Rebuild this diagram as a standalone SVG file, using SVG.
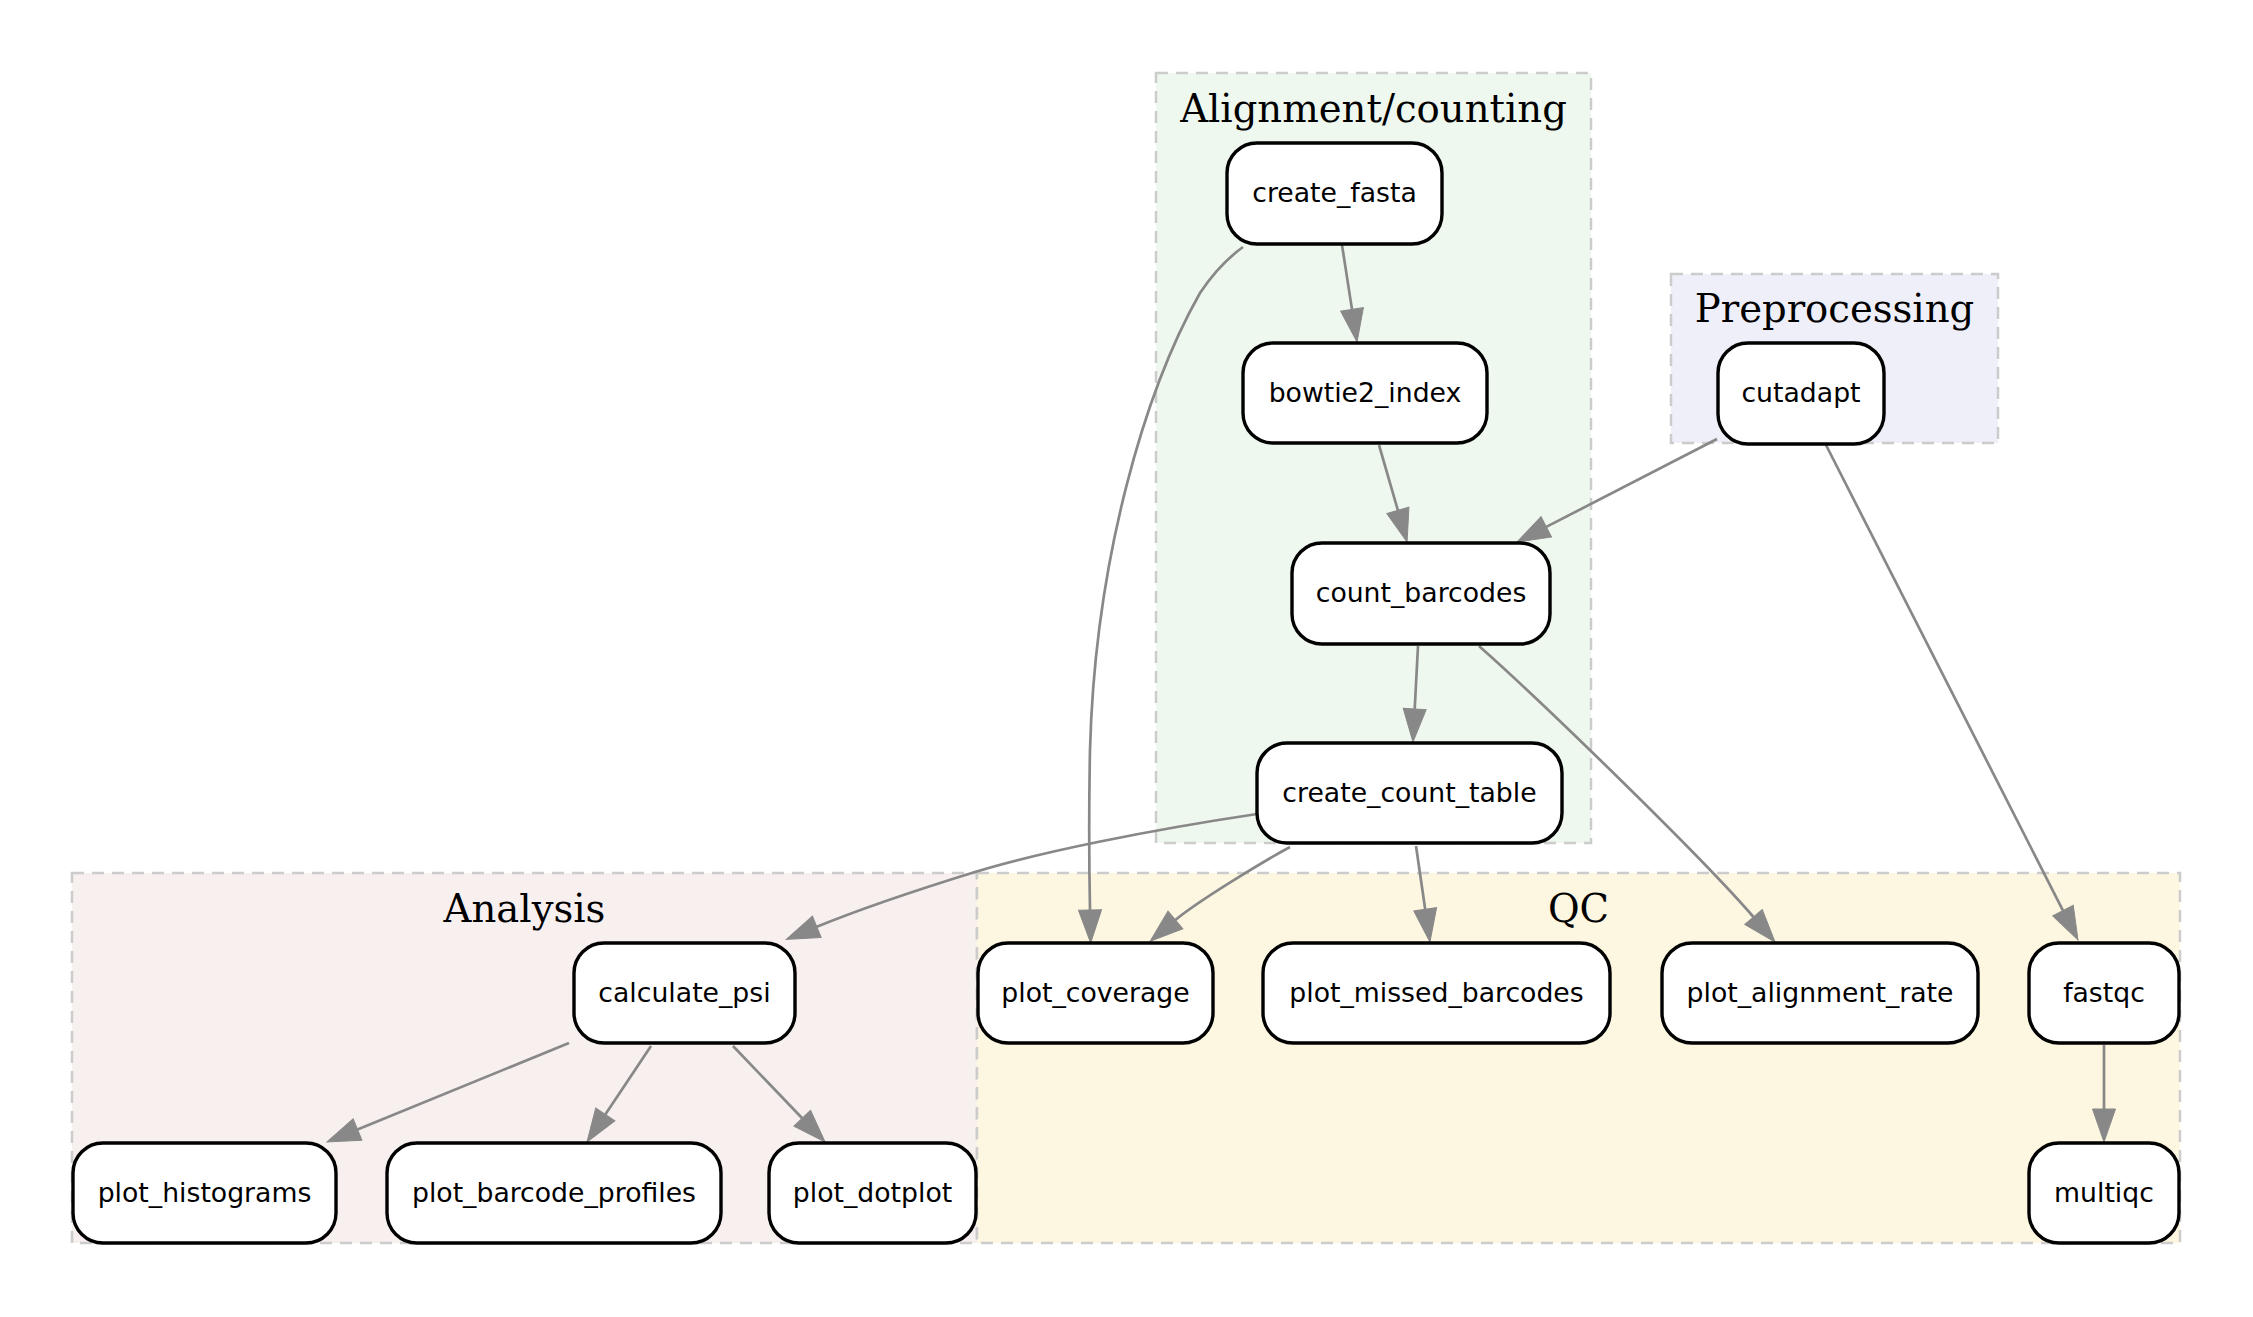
<svg xmlns="http://www.w3.org/2000/svg" width="2253" height="1317" viewBox="0 0 2253 1317">
<style>
.cl{stroke:#cccccc;stroke-width:2.5;stroke-dasharray:12 8}
.ct{font-family:"DejaVu Serif","Liberation Serif",serif;font-size:38.6px;fill:#000;text-anchor:middle}
.nd rect{fill:#ffffff;stroke:#000;stroke-width:3.4}
.nd text{font-family:"DejaVu Sans","Liberation Sans",sans-serif;font-size:26.7px;fill:#000;text-anchor:middle}
.ed path{fill:none;stroke:#888888;stroke-width:2.7}
</style>
<defs>
<marker id="ah" markerUnits="userSpaceOnUse" markerWidth="36" markerHeight="26" refX="0" refY="12" orient="auto" overflow="visible">
<path d="M0,0.5 L33,12 L0,23.5 z" fill="#888888" stroke="#888888" stroke-width="1"/>
</marker>
</defs>
<rect width="2253" height="1317" fill="#ffffff"/>
<g id="clusters">
<g id="cluster_alignment"><rect class="cl" x="1156" y="73" width="435" height="770" fill="#eff8ee"/><text class="ct" x="1373.5" y="122">Alignment/counting</text></g>
<g id="cluster_preprocessing"><rect class="cl" x="1671" y="274" width="327" height="169" fill="#efeff9"/><text class="ct" x="1834.5" y="322">Preprocessing</text></g>
<g id="cluster_analysis"><rect class="cl" x="72" y="873" width="905" height="370" fill="#f8efef"/><text class="ct" x="524.5" y="922">Analysis</text></g>
<g id="cluster_qc"><rect class="cl" x="977" y="873" width="1203" height="370" fill="#fdf6e0"/><text class="ct" x="1578.5" y="922">QC</text></g>
</g>
<g id="connectors" class="ed">
<path marker-end="url(#ah)" d="M1342,245 L1352,309.4"/>
<path marker-end="url(#ah)" d="M1379,445 L1397.9,510.3"/>
<path marker-end="url(#ah)" d="M1717,439 L1546.3,526.9"/>
<path marker-end="url(#ah)" d="M1418,646 L1414.7,709"/>
<path marker-end="url(#ah)" d="M1479,646 C1540,700 1700,855 1753.5,917"/>
<path marker-end="url(#ah)" d="M1826,445 L2063,910.6"/>
<path marker-end="url(#ah)" d="M2104,1045 L2104,1109"/>
<path marker-end="url(#ah)" d="M1416,846 L1425.2,909.3"/>
<path marker-end="url(#ah)" d="M1290,847 C1264,861 1198,901 1175.4,920"/>
<path marker-end="url(#ah)" d="M1257,814 C1150,830 1040,852 975,872 C920,889 870,905 816.8,926.8"/>
<path marker-end="url(#ah)" d="M1243,247 C1225,260 1212,275 1200,293 C1145,390 1095,560 1090,750 C1089,800 1089,860 1090,910"/>
<path marker-end="url(#ah)" d="M569,1043 L357.5,1129.5"/>
<path marker-end="url(#ah)" d="M651,1046 L605.3,1114.5"/>
<path marker-end="url(#ah)" d="M733,1046 L802.2,1118.2"/>
</g>
<g id="n_create_fasta" class="nd"><rect x="1227" y="143" width="215" height="101" rx="30"/><text x="1334.5" y="202">create_fasta</text></g>
<g id="n_bowtie2_index" class="nd"><rect x="1243" y="343" width="244" height="100" rx="30"/><text x="1365" y="402">bowtie2_index</text></g>
<g id="n_count_barcodes" class="nd"><rect x="1292" y="543" width="258" height="101" rx="30"/><text x="1421" y="602">count_barcodes</text></g>
<g id="n_create_count_table" class="nd"><rect x="1257" y="743" width="305" height="100" rx="30"/><text x="1409.5" y="802">create_count_table</text></g>
<g id="n_cutadapt" class="nd"><rect x="1718" y="343" width="166" height="101" rx="30"/><text x="1801" y="402">cutadapt</text></g>
<g id="n_calculate_psi" class="nd"><rect x="574" y="943" width="221" height="100" rx="30"/><text x="684.5" y="1002">calculate_psi</text></g>
<g id="n_plot_histograms" class="nd"><rect x="73" y="1143" width="263" height="100" rx="30"/><text x="204.5" y="1202">plot_histograms</text></g>
<g id="n_plot_barcode_profiles" class="nd"><rect x="387" y="1143" width="334" height="100" rx="30"/><text x="554" y="1202">plot_barcode_profiles</text></g>
<g id="n_plot_dotplot" class="nd"><rect x="769" y="1143" width="207" height="100" rx="30"/><text x="872.5" y="1202">plot_dotplot</text></g>
<g id="n_plot_coverage" class="nd"><rect x="978" y="943" width="235" height="100" rx="30"/><text x="1095.5" y="1002">plot_coverage</text></g>
<g id="n_plot_missed_barcodes" class="nd"><rect x="1263" y="943" width="347" height="100" rx="30"/><text x="1436.5" y="1002">plot_missed_barcodes</text></g>
<g id="n_plot_alignment_rate" class="nd"><rect x="1662" y="943" width="316" height="100" rx="30"/><text x="1820" y="1002">plot_alignment_rate</text></g>
<g id="n_fastqc" class="nd"><rect x="2029" y="943" width="150" height="100" rx="30"/><text x="2104" y="1002">fastqc</text></g>
<g id="n_multiqc" class="nd"><rect x="2029" y="1143" width="150" height="100" rx="30"/><text x="2104" y="1202">multiqc</text></g>
</svg>
